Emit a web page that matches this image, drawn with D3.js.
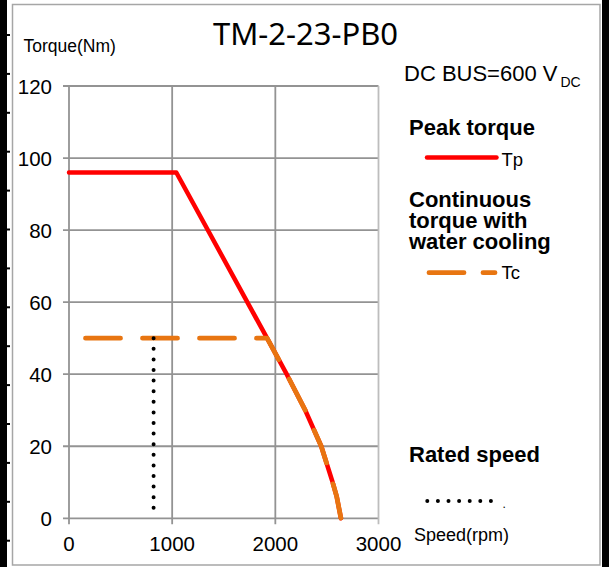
<!DOCTYPE html>
<html>
<head>
<meta charset="utf-8">
<script src="https://cdn.jsdelivr.net/npm/d3@7"></script>
<style>
  body { margin: 0; background: #fff; }
  text { font-family: "Liberation Sans", Arial, sans-serif; fill: #000; }
</style>
</head>
<body>
<div id="chart"></div>
<script>

// chart size
const width = 609;
const height = 567;

// plot area in pixels
const plot = {left: 69, right: 378.5, top: 86, bottom: 518.3};

// data
const speedTicks = [0, 1000, 2000, 3000];
const torqueTicks = [0, 20, 40, 60, 80, 100, 120];

// peak torque curve (rpm, Nm)
const peakSpeed  = [0, 1040, 1920, 2110, 2290, 2445, 2550, 2595, 2636];
const peakTorque = [96, 96, 50, 40, 30, 20, 10.5, 6, 0];

// continuous torque with water cooling (rpm, Nm)
const contSpeed  = [160, 1920, 2110, 2290, 2445, 2550, 2595, 2636];
const contTorque = [50, 50, 40, 30, 20, 10.5, 6, 0];

// rated speed marker (rpm, Nm)
const ratedSpeed  = [820, 820];
const ratedTorque = [50, 2.6];

const svg = d3.select("#chart")
  .append("svg")
  .attr("width", width)
  .attr("height", height)
  .attr("viewBox", [0, 0, width, height]);

// page border bits: black bars left and right, grey frame
svg.append("rect")
  .attr("x", 0).attr("y", 0).attr("width", 7).attr("height", height)
  .attr("fill", "#000");
svg.selectAll(".edge-tick")
  .data(d3.range(14))
  .enter()
  .append("rect")
    .attr("class", "edge-tick")
    .attr("x", 0)
    .attr("y", i => 34 + i * 38.9)
    .attr("width", 10)
    .attr("height", 2)
    .attr("fill", "#000");
svg.append("rect")
  .attr("x", 602).attr("y", 0).attr("width", 7).attr("height", height)
  .attr("fill", "#000");
svg.append("rect")
  .attr("x", 12.5).attr("y", 4.5).attr("width", 587.5).attr("height", 560.5)
  .attr("fill", "none")
  .attr("stroke", "#a6a6a6")
  .attr("stroke-width", 1.5);

// scales
const x = d3.scaleLinear()
  .domain([0, 3000])
  .range([plot.left, plot.right]);

const y = d3.scaleLinear()
  .domain([0, 120])
  .range([plot.bottom, plot.top]);

// grid
const grid = svg.append("g")
  .attr("stroke-width", 1.8);

grid.selectAll(".hgrid")
  .data(torqueTicks)
  .enter()
  .append("line")
    .attr("class", "hgrid")
    .attr("x1", plot.left - 6)
    .attr("x2", plot.right)
    .attr("y1", d => y(d))
    .attr("y2", d => y(d))
    .attr("stroke", "#939393");

grid.selectAll(".vgrid")
  .data(speedTicks)
  .enter()
  .append("line")
    .attr("class", "vgrid")
    .attr("x1", d => x(d))
    .attr("x2", d => x(d))
    .attr("y1", plot.top)
    .attr("y2", plot.bottom + 6)
    .attr("stroke", d => d === 3000 ? "#bdbdbd" : "#939393");

// tick labels
svg.selectAll(".ylab")
  .data(torqueTicks)
  .enter()
  .append("text")
    .attr("class", "ylab")
    .attr("x", 52)
    .attr("y", d => y(d) + 7.5)
    .attr("text-anchor", "end")
    .attr("font-size", "20.5px")
    .text(d => d);

svg.selectAll(".xlab")
  .data(speedTicks)
  .enter()
  .append("text")
    .attr("class", "xlab")
    .attr("x", d => x(d))
    .attr("y", 550.5)
    .attr("text-anchor", "middle")
    .attr("font-size", "20.5px")
    .text(d => d);

// lines
const line = d3.line()
  .x(d => x(d[0]))
  .y(d => y(d[1]));

svg.append("path")
  .datum(d3.zip(peakSpeed, peakTorque))
  .attr("d", line)
  .attr("fill", "none")
  .attr("stroke", "#ff0000")
  .attr("stroke-width", 4.5)
  .attr("stroke-linejoin", "round")
  .attr("stroke-linecap", "round");

svg.append("path")
  .datum(d3.zip(contSpeed, contTorque))
  .attr("d", line)
  .attr("fill", "none")
  .attr("stroke", "#e87511")
  .attr("stroke-width", 4.8)
  .attr("stroke-dasharray", "35 22")
  .attr("stroke-linejoin", "round")
  .attr("stroke-linecap", "round");

svg.append("path")
  .datum(d3.zip(ratedSpeed, ratedTorque))
  .attr("d", line)
  .attr("fill", "none")
  .attr("stroke", "#000")
  .attr("stroke-width", 4)
  .attr("stroke-dasharray", "0 10.6")
  .attr("stroke-linecap", "round");

// titles
svg.append("text")
  .attr("x", 305.5)
  .attr("y", 45)
  .attr("text-anchor", "middle")
  .attr("font-size", "31px")
  .style("font-family", "'Noto Sans', sans-serif")
  .text("TM-2-23-PB0");

svg.append("text")
  .attr("x", 23.5)
  .attr("y", 52)
  .attr("font-size", "17.5px")
  .text("Torque(Nm)");

svg.append("text")
  .attr("x", 414)
  .attr("y", 540.7)
  .attr("font-size", "18px")
  .text("Speed(rpm)");

// legend side
const bus = svg.append("text")
  .attr("x", 404)
  .attr("y", 81)
  .attr("font-size", "22px");
bus.append("tspan").text("DC BUS=600 V");
bus.append("tspan")
  .attr("dx", 3)
  .attr("dy", 6)
  .attr("font-size", "14px")
  .text("DC");

svg.append("text")
  .attr("x", 409)
  .attr("y", 135)
  .attr("font-size", "22px")
  .attr("font-weight", "bold")
  .text("Peak torque");

// the three-line legend title is one text block
const contLines = ["Continuous", "torque with", "water cooling"];
svg.append("text")
  .attr("y", 207)
  .attr("font-size", "22px")
  .attr("font-weight", "bold")
  .selectAll("tspan")
  .data(contLines)
  .enter()
  .append("tspan")
    .attr("x", 409)
    .attr("dy", (d, i) => i === 0 ? 0 : 21)
    .text(d => d);

svg.append("text")
  .attr("x", 409)
  .attr("y", 461.7)
  .attr("font-size", "22px")
  .attr("font-weight", "bold")
  .text("Rated speed");

// legend samples
svg.append("line")
  .attr("x1", 427).attr("x2", 496.5)
  .attr("y1", 157.5).attr("y2", 157.5)
  .attr("stroke", "#ff0000")
  .attr("stroke-width", 4.5)
  .attr("stroke-linecap", "round");

svg.append("line")
  .attr("x1", 429).attr("x2", 495)
  .attr("y1", 272.7).attr("y2", 272.7)
  .attr("stroke", "#e87511")
  .attr("stroke-width", 4.8)
  .attr("stroke-dasharray", "35 19")
  .attr("stroke-linecap", "round");

svg.append("line")
  .attr("x1", 427.3).attr("x2", 492)
  .attr("y1", 501).attr("y2", 501)
  .attr("stroke", "#000")
  .attr("stroke-width", 4)
  .attr("stroke-dasharray", "0 10.6")
  .attr("stroke-linecap", "round");

svg.append("text")
  .attr("x", 502.5).attr("y", 508)
  .attr("font-size", "12px")
  .text(".");

svg.append("text")
  .attr("x", 501.5).attr("y", 165.5)
  .attr("font-size", "18.5px")
  .text("Tp");

svg.append("text")
  .attr("x", 501.5).attr("y", 278.5)
  .attr("font-size", "18.5px")
  .text("Tc");

</script>
</body>
</html>
